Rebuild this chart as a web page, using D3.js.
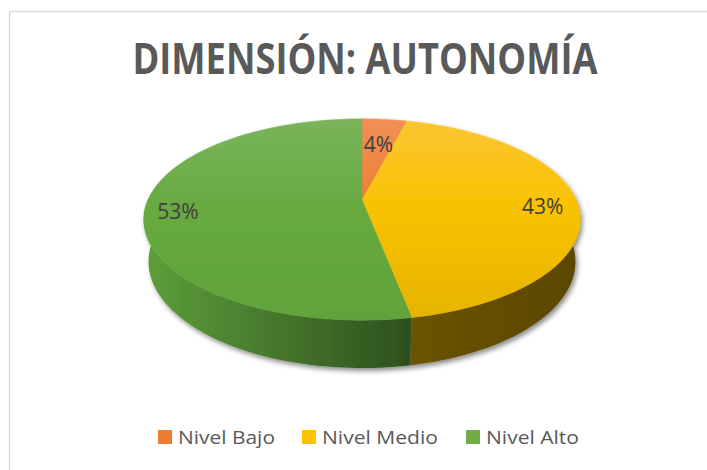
<!DOCTYPE html>
<html>
<head>
<meta charset="utf-8">
<script src="https://cdn.jsdelivr.net/npm/d3@7"></script>
<style>
  html, body { margin: 0; padding: 0; background: #fff; }
  svg { display: block; }
</style>
</head>
<body>
<svg id="chart" width="707" height="470"></svg>
<script>
// ---- data ----
const title = "DIMENSIÓN: AUTONOMÍA";
const categories = ["Nivel Bajo", "Nivel Medio", "Nivel Alto"];
const values = [4, 43, 53];
const labels = ["4%", "43%", "53%"];
const topColors = [["#f08f57", "#ed7d31", "#e9722a"], ["#fbc534", "#f9c200", "#e6b300"], ["#7ab45c", "#67aa40", "#61a23a"]];
const wallColors = [["#b85a1f", "#8a4214"], ["#6c5300", "#5b4700"], ["#5e9e3a", "#2d4f1e"]];
const legendColors = ["#ed7d31", "#ffc000", "#70ad47"];

const svg = d3.select("#chart");
const defs = svg.append("defs");

// chart border
svg.append("rect").attr("x", 9.5).attr("y", 11.5).attr("width", 720).attr("height", 470)
  .attr("fill", "#fff").attr("stroke", "#d9d9d9").attr("stroke-width", 1.5);

// title
svg.append("text").attr("x", 365).attr("y", 74).attr("text-anchor", "middle")
  .attr("font-family", "Open Sans, sans-serif").attr("font-weight", "bold")
  .attr("font-size", 43).attr("fill", "#595959")
  .attr("textLength", 465).attr("lengthAdjust", "spacingAndGlyphs")
  .text(title);

// ---- 3D perspective projection ----
const cx = 362, cy = 200, f = 985, D = 4.6, phi = 26.9 * Math.PI / 180;
const s = Math.sin(phi), c = Math.cos(phi), h = 0.221;
function proj(theta, r, Y) {
  const X = r * Math.sin(theta), Z = -r * Math.cos(theta);
  const yc = Z * s - Y * c, w = D - Z * c - Y * s;
  return [cx + f * X / w, cy + f * yc / w];
}

const pie = d3.pie().sort(null).value(d => d)(values);
const line = d3.line();
const N = 120;
function arcPts(a0, a1, r, Y) {
  const n = Math.max(2, Math.ceil(N * (a1 - a0) / Math.PI));
  return d3.range(n + 1).map(i => proj(a0 + (a1 - a0) * i / n, r, Y));
}

// gradients
pie.forEach((p, i) => {
  const g = defs.append("linearGradient").attr("id", "top" + i)
    .attr("gradientUnits", "userSpaceOnUse").attr("x1", 0).attr("y1", 119).attr("x2", 0).attr("y2", 320);
  g.append("stop").attr("offset", 0).attr("stop-color", topColors[i][0]);
  g.append("stop").attr("offset", 0.45).attr("stop-color", topColors[i][1]);
  g.append("stop").attr("offset", 1).attr("stop-color", topColors[i][2]);
});

// shadow filter
const flt = defs.append("filter").attr("id", "shadow").attr("x", "-10%").attr("y", "-10%").attr("width", "130%").attr("height", "140%");
flt.append("feDropShadow").attr("dx", 2).attr("dy", 3).attr("stdDeviation", 2.5)
  .attr("flood-color", "#000").attr("flood-opacity", 0.45);

const g = svg.append("g").attr("filter", "url(#shadow)");

// walls: visible front part (theta between 90 and 270 deg)
const lo = Math.PI / 2, hi = 3 * Math.PI / 2;
pie.forEach((p, i) => {
  const a0 = Math.max(p.startAngle, lo), a1 = Math.min(p.endAngle, hi);
  if (a1 <= a0) return;
  const top = arcPts(a0, a1, 1, 0), bot = arcPts(a0, a1, 1, -h).reverse();
  const xs = top.map(q => q[0]);
  const gr = defs.append("linearGradient").attr("id", "wall" + i)
    .attr("gradientUnits", "userSpaceOnUse")
    .attr("x1", d3.min(xs)).attr("y1", 0).attr("x2", d3.max(xs)).attr("y2", 0);
  gr.append("stop").attr("offset", 0).attr("stop-color", wallColors[i][0]);
  gr.append("stop").attr("offset", 1).attr("stop-color", wallColors[i][1]);
  g.append("path").attr("d", line(top.concat(bot)) + "Z").attr("fill", "url(#wall" + i + ")");
});

// top faces
pie.forEach((p, i) => {
  const pts = [proj(0, 0, 0)].concat(arcPts(p.startAngle, p.endAngle, 1, 0));
  g.append("path").attr("d", line(pts) + "Z").attr("fill", "url(#top" + i + ")")
    .attr("stroke", "url(#top" + i + ")").attr("stroke-width", 0.5);
});

// labels
const labelR = [0.7, 0.84, 0.85];
pie.forEach((p, i) => {
  const mid = (p.startAngle + p.endAngle) / 2;
  const [x, y] = proj(mid, labelR[i], 0);
  svg.append("text").attr("x", x).attr("y", y + 11).attr("text-anchor", "middle")
    .attr("font-family", "Open Sans, sans-serif").attr("font-size", 21).attr("fill", "#404040")
    .text(labels[i]);
});

// legend
const legendX = [158, 302, 466];
const legendW = [97, 116, 93];
categories.forEach((cat, i) => {
  svg.append("rect").attr("x", legendX[i]).attr("y", 430).attr("width", 14).attr("height", 14)
    .attr("fill", legendColors[i]);
  svg.append("text").attr("x", legendX[i] + 20).attr("y", 444)
    .attr("font-family", "Open Sans, sans-serif").attr("font-size", 19).attr("fill", "#595959")
    .attr("textLength", legendW[i]).attr("lengthAdjust", "spacingAndGlyphs")
    .text(cat);
});
</script>
</body>
</html>
